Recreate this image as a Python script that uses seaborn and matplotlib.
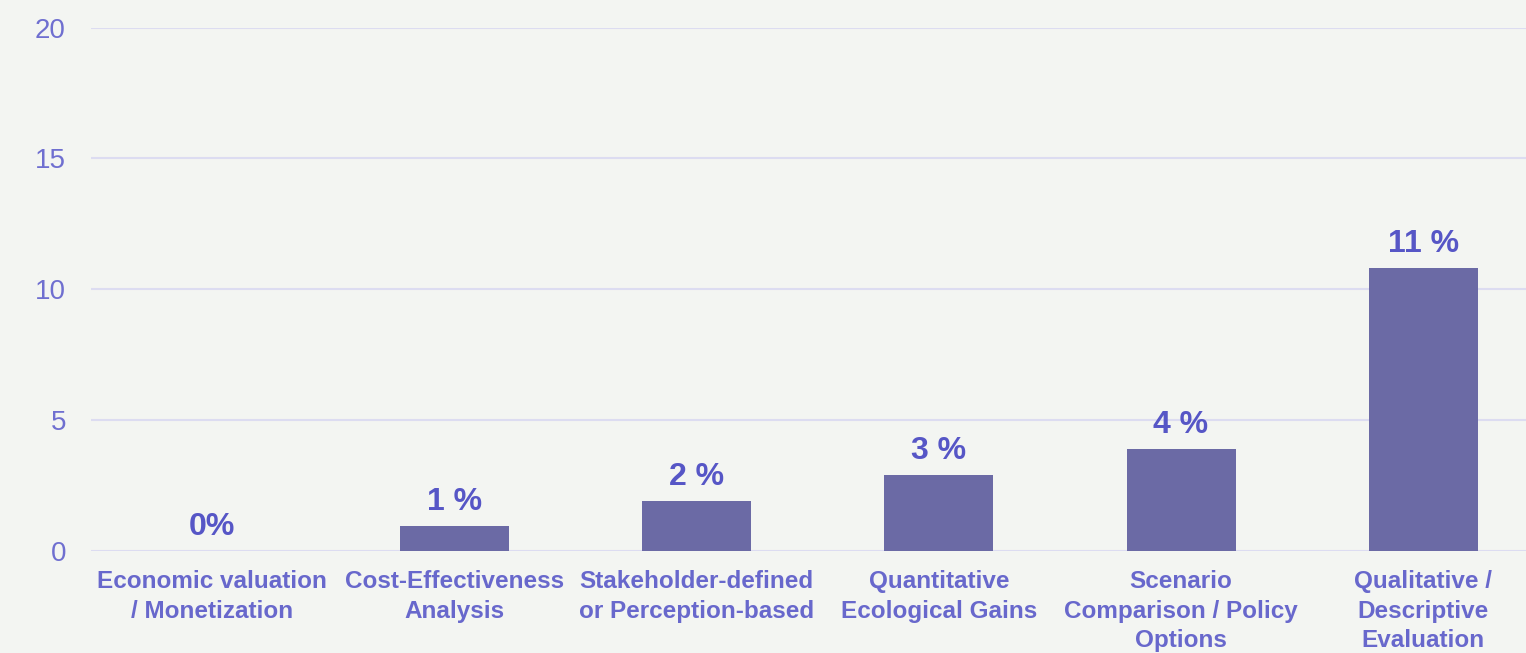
import pandas as pd
import seaborn as sns
import matplotlib.pyplot as plt

# Data
methods = ["Economic valuation\n/ Monetization",
           "Cost-Effectiveness\nAnalysis",
           "Stakeholder-defined\nor Perception-based",
           "Quantitative\nEcological Gains",
           "Scenario\nComparison / Policy\nOptions",
           "Qualitative /\nDescriptive\nEvaluation"]
values = [0, 0.95, 1.92, 2.9, 3.9, 10.8]
value_labels = ["0%", "1 %", "2 %", "3 %", "4 %", "11 %"]
y_ticks = [0, 5, 10, 15, 20]

df = pd.DataFrame({'method': methods, 'value': values})

sns.set_style("white")
plt.rcParams['font.family'] = ['Liberation Sans', 'DejaVu Sans']

bg = '#f3f5f2'
fig = plt.figure(figsize=(15.26, 6.53), dpi=100, facecolor=bg)
ax = fig.add_axes([0.0596, 0.1562, 0.9404, 0.8015])
ax.set_facecolor(bg)

sns.barplot(data=df, x='method', y='value', color='#6b6aa5', width=0.45,
            saturation=1, linewidth=0, ax=ax, zorder=3)

# Value labels above bars
for i, (v, lab) in enumerate(zip(values, value_labels)):
    ax.annotate(lab, xy=(i, v), xytext=(0, 11.5), textcoords='offset points',
                ha='center', va='baseline', fontsize=23, fontweight='bold',
                color='#5656c6', zorder=4)

ax.set_xlim(-0.5, 5.424)
ax.set_ylim(0, 20)
ax.set_yticks(y_ticks)
ax.yaxis.grid(True, color='#dcdcf1', linewidth=1.5, zorder=0)
ax.set_axisbelow(True)

for s in ax.spines.values():
    s.set_visible(False)

ax.set_xlabel('')
ax.set_ylabel('')
ax.tick_params(axis='y', length=0, pad=18, labelsize=20, labelcolor='#6f6fd0')
ax.tick_params(axis='x', length=0, pad=13.5, labelsize=17.5, labelcolor='#6868cc')
for t in ax.get_xticklabels():
    t.set_fontweight('bold')
    t.set_multialignment('center')
    t.set_linespacing(1.38)

plt.savefig('out.png', dpi=100, facecolor=bg)
